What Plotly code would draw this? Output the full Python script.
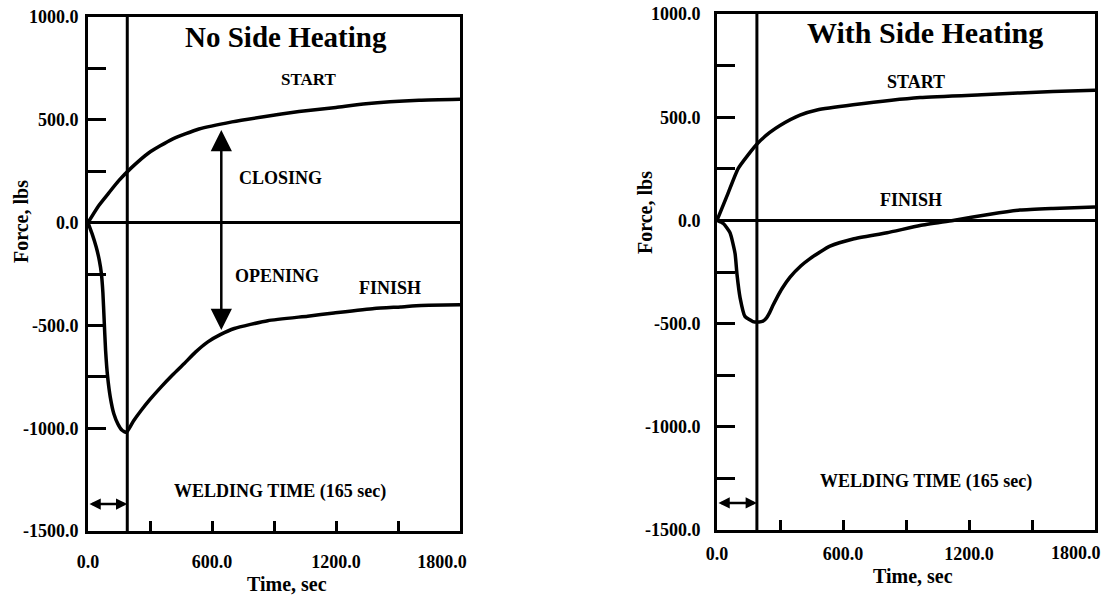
import plotly.graph_objects as go

# ---------------- data ----------------
weld_time = 190  # position of the welding-time marker line (sec)

x_tickvals = [0, 300, 600, 900, 1200, 1500, 1800]
x_ticktext_left = ["0.0", "", "600.0", "", "1200.0", "", "1800.0" + "&nbsp;" * 8]
x_ticktext_right = ["0.0", "", "600.0", "", "1200.0", "", ""]
x_last_label = "1800.0"

y_tickvals_left = [1000, 750, 500, 250, 0, -250, -500, -750, -1000, -1500]
y_ticktext_left = ["1000.0", "", "500.0", "", "0.0", "", "-500.0", "", "-1000.0", "-1500.0"]
y_tickvals_right = [1000, 750, 500, 250, 0, -250, -500, -750, -1000, -1250, -1500]
y_ticktext_right = ["1000.0", "", "500.0", "", "0.0", "", "-500.0", "", "-1000.0", "", "-1500.0"]

# No side heating
left_start_t = [0, 50, 102, 150, 208, 295, 406, 537, 697, 850, 1021, 1200, 1345, 1602, 1800]
left_start_v = [0, 80, 146, 205, 265, 340, 405, 455, 490, 515, 540, 560, 578, 595, 600]
left_finish_t = [0, 20, 40, 55, 65, 72, 78, 85, 95, 108, 125, 145, 165, 186, 220, 256, 300,
                 353, 410, 466, 520, 580, 640, 708, 870, 1063, 1190, 1385, 1513, 1612, 1800]
left_finish_v = [0, -55, -120, -185, -250, -340, -470, -620, -750, -850, -930, -980, -1010,
                 -1020, -965, -915, -860, -800, -740, -685, -630, -580, -545, -515, -477, -455,
                 -440, -418, -410, -403, -400]

# With side heating
right_start_t = [0, 50, 100, 150, 195, 250, 300, 395, 476, 648, 967, 1286, 1600, 1800]
right_start_v = [0, 125, 250, 320, 375, 425, 460, 510, 535, 560, 595, 610, 625, 630]
right_finish_t = [0, 30, 62, 86, 95, 110, 133, 171, 200, 220, 236, 250, 265, 285, 310, 348, 400,
                  443, 538, 648, 810, 967, 1124, 1300, 1443, 1600, 1800]
right_finish_v = [0, -15, -60, -160, -260, -375, -465, -490, -492, -487, -472, -448, -415,
                  -375, -330, -275, -220, -185, -125, -90, -60, -25, 0, 30, 50, 58, 65]

# ---------------- figure ----------------
FONT = "Liberation Serif"
BLACK = "black"

fig = go.Figure()
line = dict(color=BLACK, width=3.5, shape="spline", smoothing=0.5)
fig.add_trace(go.Scatter(x=left_start_t, y=left_start_v, mode="lines", line=line, xaxis="x", yaxis="y"))
fig.add_trace(go.Scatter(x=left_finish_t, y=left_finish_v, mode="lines", line=line, xaxis="x", yaxis="y"))
fig.add_trace(go.Scatter(x=right_start_t, y=right_start_v, mode="lines", line=line, xaxis="x2", yaxis="y2"))
fig.add_trace(go.Scatter(x=right_finish_t, y=right_finish_v, mode="lines", line=line, xaxis="x2", yaxis="y2"))

tickfont = dict(family=FONT, size=18, color=BLACK, weight="bold")

def xaxis(domain, anchor, ticktext, standoff):
    return dict(domain=domain, anchor=anchor, range=[0, 1800], tickvals=x_tickvals, ticktext=ticktext,
                ticks="inside", ticklen=10, tickwidth=2.5, tickcolor=BLACK, showline=True, mirror=True,
                linecolor=BLACK, linewidth=3, showgrid=False, zeroline=False, tickfont=tickfont,
                ticklabelstandoff=standoff, automargin=False, ticklabeloverflow="allow")

def yaxis(domain, anchor, tv, tt, standoff):
    return dict(domain=domain, anchor=anchor, range=[-1500, 1000], tickvals=tv, ticktext=tt,
                ticks="inside", ticklen=18, tickwidth=3, tickcolor=BLACK, showline=True, mirror=True,
                linecolor=BLACK, linewidth=3, showgrid=False, zeroline=True, zerolinecolor=BLACK,
                zerolinewidth=3, tickfont=tickfont, ticklabelstandoff=standoff, automargin=False,
                ticklabeloverflow="allow")

W, H = 1106, 598
fig.update_layout(
    width=W, height=H, autosize=False, margin=dict(l=0, r=0, t=0, b=0, pad=0),
    paper_bgcolor="white", plot_bgcolor="white", showlegend=False,
    xaxis=xaxis([88 / W, 460 / W], "y", x_ticktext_left, 12),
    yaxis=yaxis([1 - 531 / H, 1 - 17 / H], "x", y_tickvals_left, y_ticktext_left, 3),
    xaxis2=xaxis([717 / W, 1095 / W], "y2", x_ticktext_right, 5),
    yaxis2=yaxis([1 - 530 / H, 1 - 14 / H], "x2", y_tickvals_right, y_ticktext_right, 10),
)

# last x tick label of the right panel, kept inside the page
fig.add_annotation(x=1800, y=1 - 553 / H, xref="x2", yref="paper", text=x_last_label, showarrow=False,
                   xanchor="right", yanchor="middle", xshift=8, font=tickfont)

# welding time vertical lines
for xr, yr in (("x", "y"), ("x2", "y2")):
    fig.add_shape(type="line", xref=xr, yref=yr, x0=weld_time, x1=weld_time, y0=-1500, y1=1000,
                  line=dict(color=BLACK, width=3))

def text(x, y, s, size, xr, yr, xanchor="center"):
    fig.add_annotation(x=x, y=y, xref=xr, yref=yr, text=s, showarrow=False, xanchor=xanchor,
                       yanchor="middle", font=dict(family=FONT, size=size, color=BLACK, weight="bold"))

# left panel texts
text(958, 905, "No Side Heating", 29, "x", "y")
text(1065, 694, "START", 17, "x", "y")
text(721, 215, "CLOSING", 18, "x", "y", "left")
text(702, -260, "OPENING", 18, "x", "y", "left")
text(1461, -318, "FINISH", 18, "x", "y")
text(929, -1310, "WELDING TIME (165 sec)", 18, "x", "y")

# right panel texts
text(990, 908, "With Side Heating", 30, "x2", "y2")
text(948, 671, "START", 18, "x2", "y2")
text(924, 100, "FINISH", 18, "x2", "y2")
text(995, -1267, "WELDING TIME (165 sec)", 18, "x2", "y2")

# closing / opening arrows
arrow_t = 645
for head in (450, -522):
    fig.add_annotation(x=arrow_t, y=head, ax=arrow_t, ay=0, xref="x", yref="y", axref="x", ayref="y",
                       text="", showarrow=True, arrowhead=2, arrowsize=1.7, arrowwidth=2.5,
                       arrowcolor=BLACK)

# welding time double arrows
for xr, yr in (("x", "y"), ("x2", "y2")):
    fig.add_annotation(x=weld_time, y=-1369, ax=0, ay=-1369, xref=xr, yref=yr, axref=xr, ayref=yr,
                       text="", showarrow=True, arrowhead=2, arrowside="end+start", arrowsize=0.9,
                       arrowwidth=2.5, arrowcolor=BLACK)

# axis titles
def ptext(px, py, s, angle=0):
    fig.add_annotation(x=px / W, y=1 - py / H, xref="paper", yref="paper", text=s, showarrow=False,
                       textangle=angle, xanchor="center", yanchor="middle",
                       font=dict(family=FONT, size=20, color=BLACK, weight="bold"))

ptext(287, 584, "Time, sec")
ptext(913, 576, "Time, sec")
ptext(21, 222, "Force, lbs", -90)
ptext(645, 213, "Force, lbs", -90)

fig.write_html("out.html")
